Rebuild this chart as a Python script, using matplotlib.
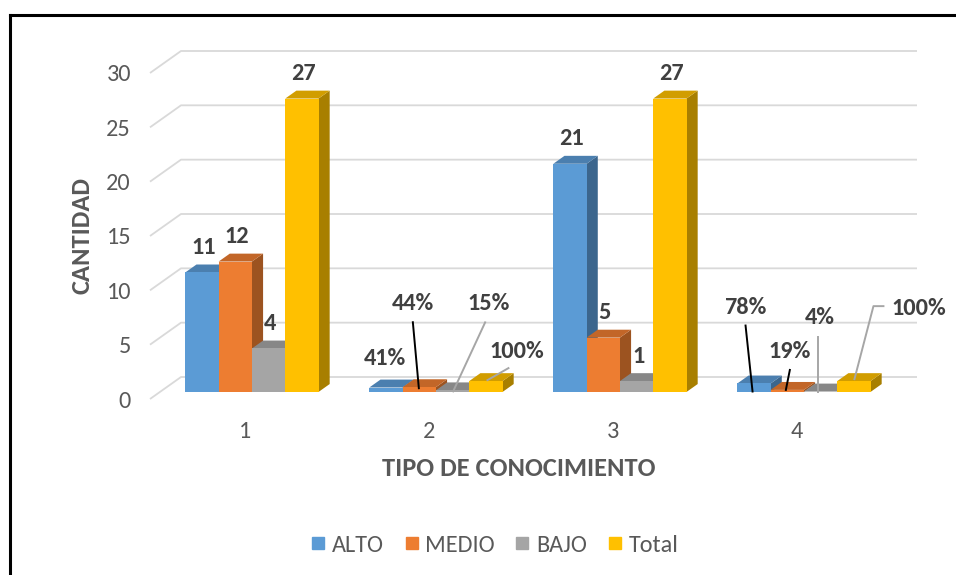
import matplotlib
matplotlib.use("Agg")
import matplotlib.pyplot as plt
from matplotlib.patches import Polygon
from matplotlib.lines import Line2D
from matplotlib import font_manager
import numpy as np

# ---------------- data ----------------
categories = ["1", "2", "3", "4"]
series_names = ["ALTO", "MEDIO", "BAJO", "Total"]
alto = [11, 0.41, 21, 0.78]
medio = [12, 0.44, 5, 0.19]
bajo = [4, 0.15, 1, 0.04]
total = [27, 1.0, 27, 1.0]
percent_category = [False, True, False, True]
yticks = [0, 5, 10, 15, 20, 25, 30]
ylabel = "CANTIDAD"
xlabel = "TIPO DE CONOCIMIENTO"

series = [alto, medio, bajo, total]
colors = ["#5B9BD5", "#ED7D31", "#A5A5A5", "#FFC000"]

# ---------------- fonts ----------------
avail = {f.name for f in font_manager.fontManager.ttflist}
fam = "Carlito" if "Carlito" in avail else "Lato"
plt.rcParams["font.family"] = [fam, "DejaVu Sans"]
FS = 17.5
FS_T = 19

W, H = 956, 575
fig = plt.figure(figsize=(W / 100, H / 100), dpi=100)
ax = fig.add_axes([0, 0, 1, 1])
# pixel scale of the pseudo-3D plot
SX = 184.0      # px per category
SY = 10.867     # px per value unit
X0PX, Y0PX = 150.0, 399.0   # front-plane origin (category 0.5, value 0)
ax.set_xlim(0.5 - X0PX / SX, 0.5 + (W - X0PX) / SX)
ax.set_ylim((Y0PX - H) / SY, Y0PX / SY)
ax.axis("off")

DX = 31.0 / SX   # depth projection
DY = 22.0 / SY
ZF, ZB = 0.32, 0.68
BW = 33.3 / SX
ANCHOR_SHIFT_PX = -7


def proj(x, y, z):
    return (x + z * DX, y + z * DY)


def off(dx, dy):
    # pixel offset (image y down) -> data offset
    return dx / SX, -dy / SY


def shade(c, f):
    r, g, b = matplotlib.colors.to_rgb(c)
    return (r * f, g * f, b * f)


grid_c = "#D9D9D9"
x_left, x_right = 0.5, 0.5 + len(categories)
for v in yticks:
    pts = [proj(x_left, v, 0), proj(x_left, v, 1), proj(x_right, v, 1)]
    ax.plot([p[0] for p in pts], [p[1] for p in pts], color=grid_c, lw=1.3,
            solid_capstyle="butt", zorder=1)
    tx, ty = proj(x_left, v, 0)
    ox, oy = off(-19, 2)
    ax.text(tx + ox, ty + oy, str(v), ha="right", va="center",
            fontsize=FS, color="#595959")

# category labels
for k, c in enumerate(categories):
    tx, ty = proj(k + 1, 0, 0)
    ox, oy = off(3, 33)
    ax.text(tx + ox, ty + oy, c, ha="center", va="center", fontsize=FS,
            color="#595959")

# special label layout for percentage groups (pixel offsets from bar top centre)
special = {
    (1, 0): dict(text=(0, -25), leader=None),
    (1, 1): dict(text=(-5, -80), leader=[(-5, -61), (1, 5)], lc="black"),
    (1, 2): dict(text=(37, -83), leader=[(34, -64), (2, 5)], lc="#A6A6A6"),
    (1, 3): dict(text=(32, -26), leader=[(24, -9), (3, 3)], lc="#A6A6A6"),
    (3, 0): dict(text=(-7, -72), leader=[(-7, -54), (0, 12)], lc="black"),
    (3, 1): dict(text=(4, -34), leader=[(4, -16), (0, 4)], lc="black"),
    (3, 2): dict(text=(1, -70), leader=[(-1, -51), (-1, 4)], lc="#A6A6A6"),
    (3, 3): dict(text=(66, -69), leader=[(31, -71), (21, -71), (2, 2)], lc="#A6A6A6"),
}

z = 2
for k in range(len(categories)):
    for i, (vals, col) in enumerate(zip(series, colors)):
        v = vals[k]
        xc = (k + 1) + (i - 1.5) * BW
        x0, x1 = xc - BW / 2, xc + BW / 2
        front = [proj(x0, 0, ZF), proj(x1, 0, ZF), proj(x1, v, ZF), proj(x0, v, ZF)]
        top = [proj(x0, v, ZF), proj(x1, v, ZF), proj(x1, v, ZB), proj(x0, v, ZB)]
        side = [proj(x1, 0, ZF), proj(x1, 0, ZB), proj(x1, v, ZB), proj(x1, v, ZF)]
        ax.add_patch(Polygon(side, closed=True, fc=shade(col, 0.66), ec="none", zorder=z))
        ax.add_patch(Polygon(top, closed=True, fc=shade(col, 0.82), ec="none", zorder=z))
        ax.add_patch(Polygon(front, closed=True, fc=col, ec="none", zorder=z))
        z += 1

# data labels
for k in range(len(categories)):
    for i, vals in enumerate(series):
        v = vals[k]
        xc = (k + 1) + (i - 1.5) * BW
        ax_, ay_ = proj(xc, v, 0.5)
        ax_ += ANCHOR_SHIFT_PX / SX
        lab = f"{v * 100:.0f}%" if percent_category[k] else f"{v:g}"
        spec = special.get((k, i))
        if spec is None:
            ox, oy = off(3, -21)
        else:
            ox, oy = off(*spec["text"])
        ax.text(ax_ + ox, ay_ + oy, lab, ha="center", va="center",
                fontsize=FS, fontweight="bold", color="#404040", zorder=100)
        if spec is not None and spec["leader"]:
            pts = [off(*p) for p in spec["leader"]]
            ax.plot([ax_ + p[0] for p in pts], [ay_ + p[1] for p in pts],
                    color=spec["lc"], lw=1.4, zorder=99)

# axis titles
fig.text(82 / W, 1 - 235 / H, ylabel, rotation=90, ha="center", va="center",
         fontsize=FS_T, fontweight="bold", color="#595959")
fig.text(519 / W, 1 - 468 / H, xlabel, ha="center", va="center",
         fontsize=FS_T, fontweight="bold", color="#595959")

# legend
handles = [Line2D([], [], ls="", marker="s", markersize=8.5, color=c) for c in colors]
fig.legend(handles, series_names, loc="center", bbox_to_anchor=(495 / W, 1 - 545 / H),
           ncol=4, frameon=False, fontsize=FS, handlelength=0.55,
           handletextpad=0.3, columnspacing=0.85, labelcolor="#595959")

# outer frame (left and top edges visible)
fig.add_artist(Line2D([9.5 / W, 9.5 / W], [0, 1 - 14.5 / H], color="black", lw=2.2,
                      transform=fig.transFigure))
fig.add_artist(Line2D([9.5 / W, 1], [1 - 14.5 / H, 1 - 14.5 / H], color="black", lw=2.2,
                      transform=fig.transFigure))

fig.savefig("out.png", dpi=100, facecolor="white")
